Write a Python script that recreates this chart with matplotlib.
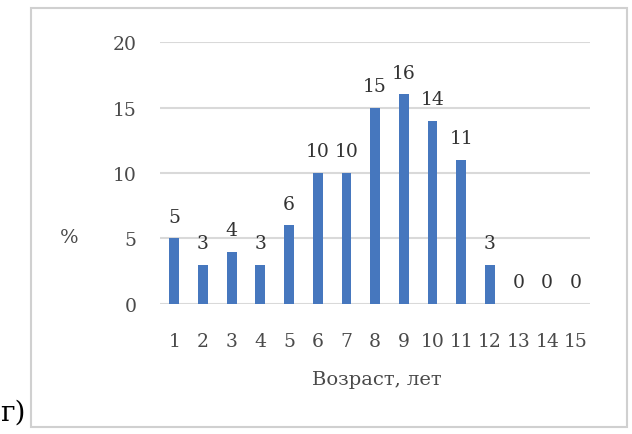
import matplotlib.pyplot as plt
from matplotlib.patches import Rectangle

ages = [str(i) for i in range(1, 16)]
percent = [5, 3, 4, 3, 6, 10, 10, 15, 16, 14, 11, 3, 0, 0, 0]
yticks = [0, 5, 10, 15, 20]

plt.rcParams['font.family'] = ['DejaVu Serif']

fig = plt.figure(figsize=(6.32, 4.35), dpi=100)
ax = fig.add_axes([0.253, 0.299, 0.681, 0.602])

# frame around the chart
fig.patches.append(Rectangle((0.049, 0.016), 0.943, 0.963, transform=fig.transFigure,
                             fill=False, edgecolor='#d0d0d0', linewidth=1.5))

x = range(len(ages))
bars = ax.bar(x, percent, width=0.34, color='#4677BE', zorder=3)
for xi, v in zip(x, percent):
    ax.annotate(str(v), (xi, v), xytext=(0, 9), textcoords='offset points',
                ha='center', va='bottom', fontsize=13.5, color='#333333')

ax.set_xlim(-0.5, len(ages) - 0.5)
ax.set_ylim(0, 20)
ax.set_yticks(yticks)
ax.set_xticks(list(x))
ax.set_xticklabels(ages)
ax.yaxis.grid(True, color='#d9d9d9', linewidth=1.5, zorder=0)
for s in ax.spines.values():
    s.set_visible(False)
ax.tick_params(length=0, labelsize=13.5, labelcolor='#4a4a4a')
ax.tick_params(axis='x', pad=20)
ax.tick_params(axis='y', pad=17)

fig.text(0.11, 0.452, '%', fontsize=14, color='#4a4a4a', ha='center', va='center')
fig.text(0.597, 0.126, 'Возраст, лет', fontsize=14, color='#4a4a4a', ha='center', va='center')
fig.text(0.0, 0.05, 'г)', fontsize=20, color='black', ha='left', va='center')

fig.savefig('out.png', dpi=100)
